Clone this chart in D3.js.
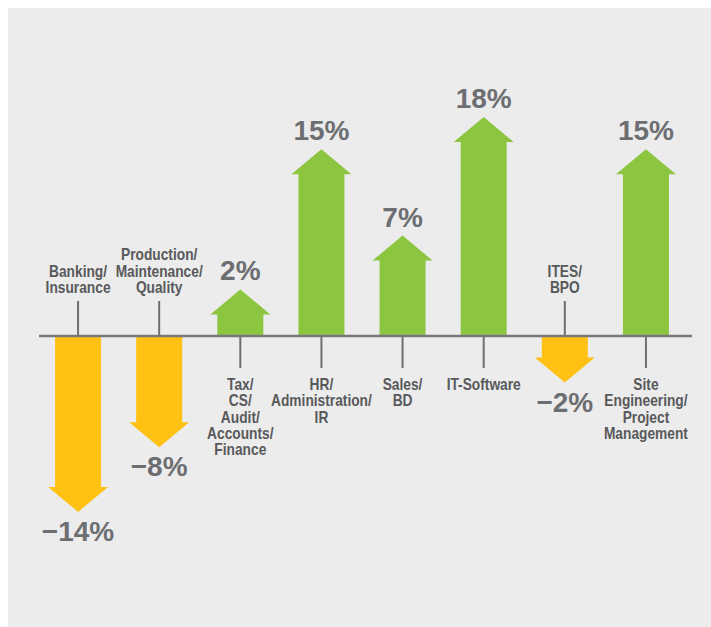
<!DOCTYPE html>
<html>
<head>
<meta charset="utf-8">
<title>Hiring change by sector</title>
<style>
body {
  margin: 0;
  background: #ffffff;
}
svg text {
  font-family: "Liberation Sans", Arial, sans-serif;
  font-weight: bold;
}
</style>
</head>
<body>
<svg id="chart"></svg>
<script src="https://cdn.jsdelivr.net/npm/d3@7"></script>
<script>
// sectors and their year-on-year change (%)
var categories = [
  'Banking/\nInsurance',
  'Production/\nMaintenance/\nQuality',
  'Tax/\nCS/\nAudit/\nAccounts/\nFinance',
  'HR/\nAdministration/\nIR',
  'Sales/\nBD',
  'IT-Software',
  'ITES/\nBPO',
  'Site\nEngineering/\nProject\nManagement'
];
var values = [-14, -8, 2, 15, 7, 18, -2, 15];
var valueLabels = ['\u221214%', '\u22128%', '2%', '15%', '7%', '18%', '\u22122%', '15%'];

var width = 711;
var height = 627;
var baseY = 336;
var headH = 25;

var chart = d3.select('#chart')
  .attr('width', width)
  .attr('height', height);

chart.append('rect')
  .attr('x', 8)
  .attr('y', 8)
  .attr('width', width - 8)
  .attr('height', height - 8)
  .attr('fill', '#ececec');

var x = d3.scaleBand()
  .domain(categories)
  .range([37.5, 686.5]);

var y = d3.scaleLinear()
  .domain([0, 18])
  .range([baseY, baseY - 194]);

var shaftW = 46;
var headW = 60;

var data = categories.map(function(c, i) {
  return { cat: c, value: values[i], label: valueLabels[i] };
});

function cx(d) { return x(d.cat) + x.bandwidth() / 2; }

// arrow polygon from baseline to y(value), head added beyond
function arrowPath(d) {
  var c = cx(d);
  var y1 = y(d.value);
  var dir = d.value >= 0 ? -1 : 1;
  var tip = y1 + dir * headH;
  var p = [
    [c - shaftW / 2, y(0)],
    [c - shaftW / 2, y1],
    [c - headW / 2, y1],
    [c, tip],
    [c + headW / 2, y1],
    [c + shaftW / 2, y1],
    [c + shaftW / 2, y(0)]
  ];
  return d3.line()(p) + 'Z';
}

var groups = chart.selectAll('g.item')
  .data(data)
  .enter()
  .append('g')
  .attr('class', 'item');

// ticks to the category label
groups.append('line')
  .attr('x1', cx)
  .attr('x2', cx)
  .attr('y1', y(0))
  .attr('y2', function(d) { return d.value >= 0 ? y(0) + 32 : y(0) - 35; })
  .attr('stroke', '#6d6e71')
  .attr('stroke-width', 2);

groups.append('path')
  .attr('d', arrowPath)
  .attr('fill', function(d) { return d.value >= 0 ? '#8cc540' : '#ffc114'; });

// baseline
chart.append('line')
  .attr('x1', 39)
  .attr('x2', 692)
  .attr('y1', y(0))
  .attr('y2', y(0))
  .attr('stroke', '#77787b')
  .attr('stroke-width', 2.5);

// value labels
groups.append('text')
  .attr('x', cx)
  .attr('y', function(d) {
    var tip = y(d.value) + (d.value >= 0 ? -headH : headH);
    return d.value >= 0 ? tip - 9 : tip + 29;
  })
  .attr('text-anchor', 'middle')
  .attr('fill', '#6d6e71')
  .style('font-size', '28px')
  .text(function(d) { return d.label; });

// category labels, squeezed horizontally to look condensed
groups.each(function(d) {
  var lines = d.cat.split('\n');
  var lh = 16.3;
  var startY = d.value >= 0 ? y(0) + 54 : y(0) - 43 - (lines.length - 1) * lh;
  var t = d3.select(this).append('text')
    .attr('transform', 'translate(' + cx(d) + ',' + startY + ') scale(0.86,1)')
    .attr('text-anchor', 'middle')
    .attr('fill', '#58595b')
    .style('font-size', '16px');
  lines.forEach(function(l, i) {
    t.append('tspan')
      .attr('x', 0)
      .attr('y', i * lh)
      .text(l);
  });
});
</script>
</body>
</html>
